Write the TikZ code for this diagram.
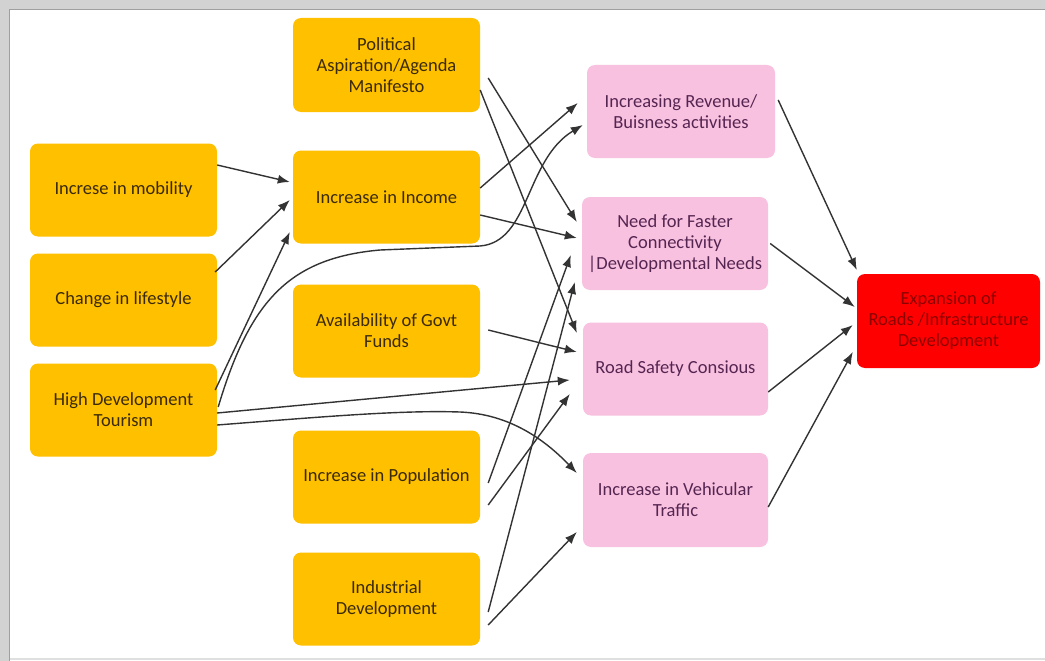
\documentclass[tikz,border=0pt]{standalone}
\usepackage{fontspec}
\setmainfont{Carlito}
\usetikzlibrary{arrows.meta}
\definecolor{boxorange}{HTML}{FFC000}
\definecolor{boxpink}{HTML}{F8C1DF}
\definecolor{boxred}{HTML}{FF0000}
\definecolor{txtorange}{HTML}{3A2A05}
\definecolor{txtpink}{HTML}{552552}
\definecolor{txtred}{HTML}{8C0000}
\definecolor{linegray}{HTML}{333333}
\tikzset{
  basebox/.style={rounded corners=8pt, align=center, inner sep=2pt,
    font=\fontsize{18.5}{21}\selectfont},
  obox/.style={basebox, fill=boxorange, text=txtorange, minimum width=187pt, minimum height=93pt},
  pbox/.style={basebox, fill=boxpink, text=txtpink, minimum width=186pt, minimum height=93pt},
  rbox/.style={basebox, fill=boxred, text=txtred, minimum width=183pt, minimum height=94pt},
  conn/.style={draw=linegray, line width=1.4pt, -{Latex[length=12pt,width=9pt]}}
}
\begin{document}
\begin{tikzpicture}[x=1pt,y=-1pt]
\useasboundingbox (0,0) rectangle (1045,661);
% frame
\fill[white] (0,0) rectangle (1045,661);
\fill[gray!35] (0,0) rectangle (1045,9);
\fill[gray!35] (0,0) rectangle (9,661);
\draw[gray!75, line width=1.8pt] (9.5,661) -- (9.5,9.5) -- (1045,9.5);
\draw[gray!25, line width=1.5pt] (10,659) -- (1045,659);

% left column
\node[obox] (mob)  at (123.5,190) {Increse in mobility};
\node[obox] (life) at (123.5,300) {Change in lifestyle};
\node[obox] (tour) at (123.5,410) {High Development\\Tourism};
% middle column
\node[obox, minimum height=94pt] (pol) at (386.5,65) {Political\\Aspiration/Agenda\\Manifesto};
\node[obox] (inc) at (386.5,197) {Increase in Income};
\node[obox] (gov) at (386.5,331) {Availability of Govt\\Funds};
\node[obox] (pop) at (386.5,477) {Increase in Population};
\node[obox] (ind) at (386.5,599) {Industrial\\Development};
% pink column
\node[pbox, minimum width=188pt] (rev) at (681,111.5) {Increasing Revenue/\\Buisness activities};
\node[pbox] (need) at (675,243.5) {Need for Faster\\Connectivity\\|Developmental Needs};
\node[pbox, minimum width=185pt] (road) at (675.5,369) {Road Safety Consious};
\node[pbox, minimum width=185pt, minimum height=94pt] (veh) at (675.5,500) {Increase in Vehicular\\Traffic};
% red
\node[rbox] (red) at (948.5,321) {Expansion of\\Roads /Infrastructure\\Development};

% connectors: left -> income
\draw[conn] ([shift={(0,-25)}]mob.east) -- ([shift={(-3,-15)}]inc.west);
\draw[conn] ([shift={(-2,-28)}]life.east) -- ([shift={(-3,3)}]inc.west);
\draw[conn] ([shift={(-2,-20)}]tour.east) -- ([shift={(-3,35)}]inc.west);
% tourism -> revenue (S curve)
\draw[conn] ([shift={(1,-3)}]tour.east) .. controls (250,300) and (290,258) .. (380,250)
   -- (480,246) .. controls (530,242) and (525,160) .. ([shift={(-4,13.5)}]rev.west);
% tourism -> road safety
\draw[conn] ([shift={(0,3)}]tour.east) -- ([shift={(-13,11)}]road.west);
% tourism -> vehicular
\draw[conn] ([shift={(0,15)}]tour.east) .. controls (320,417) and (400,410) .. (460,412)
   .. controls (510,414) and (545,440) .. ([shift={(-6,-27)}]veh.west);
% political
\draw[conn] ([shift={(8,13)}]pol.east) -- ([shift={(-5,-21.5)}]need.west);
\draw[conn] ([shift={(0,25)}]pol.east) -- ([shift={(-6,-36)}]road.west);
% income
\draw[conn] ([shift={(0,-9)}]inc.east) -- ([shift={(-9,-8.5)}]rev.west);
\draw[conn] ([shift={(0,18)}]inc.east) -- ([shift={(-5,-5.5)}]need.west);
% govt funds
\draw[conn] ([shift={(8,-1)}]gov.east) -- ([shift={(-6,-17)}]road.west);
% population
\draw[conn] ([shift={(8,6)}]pop.east) -- ([shift={(-11,11.5)}]need.west);
\draw[conn] ([shift={(8,28)}]pop.east) -- ([shift={(-13,25)}]road.west);
% industrial
\draw[conn] ([shift={(8,13)}]ind.east) -- ([shift={(-7,38.5)}]need.west);
\draw[conn] ([shift={(8,26)}]ind.east) -- ([shift={(-6,32)}]veh.west);
% pink -> red
\draw[conn] ([shift={(3,-11.5)}]rev.east) -- ([shift={(0,-51)}]red.west);
\draw[conn] ([shift={(2,0)}]need.east) -- ([shift={(-2,-14)}]red.west);
\draw[conn] ([shift={(0,23)}]road.east) -- ([shift={(-4,4)}]red.west);
\draw[conn] ([shift={(0,7)}]veh.east) -- ([shift={(-4,31)}]red.west);
\end{tikzpicture}
\end{document}
